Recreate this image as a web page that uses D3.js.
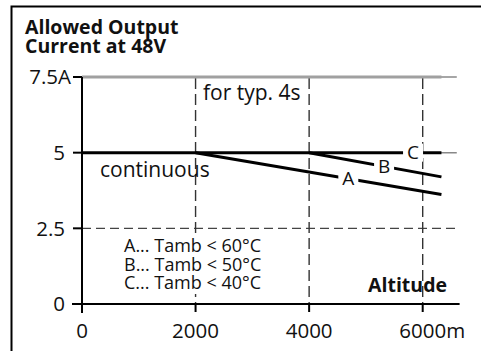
<!DOCTYPE html>
<html>
<head>
<meta charset="utf-8">
<script src="https://cdn.jsdelivr.net/npm/d3@7"></script>
<style>
  html, body { margin: 0; padding: 0; background: #fff; }
  svg { display: block; }
  text { font-family: "Open Sans", "Noto Sans", sans-serif; fill: #111; }
</style>
</head>
<body>
<svg id="chart" width="481" height="351"></svg>
<script>
// Altitude axis (m) and current axis (A)
const xTicks = [0, 2000, 4000, 6000];
const xTickLabels = ["0", "2000", "4000", "6000", "m"];
const yTicks = [0, 2.5, 5, 7.5];
const yTickLabels = ["0", "2.5", "5", "7.5A"];

// Derating curves: [altitude m, current A]
const curveC = [[0, 5], [6330, 5]];
const curveB = [[4000, 5], [6330, 4.2]];
const curveA = [[2000, 5], [6330, 3.62]];
// Short-time (peak) current for typ. 4s
const peakLine = [[0, 7.5], [6330, 7.5]];

const curveNames = ["A", "B", "C"];
const curveLabelAlt = [4690, 5320, 5830];

const legendLines = ["A... Tamb < 60°C", "B... Tamb < 50°C", "C... Tamb < 40°C"];

const gridEnd = 6600;   // grid lines extend slightly past the last tick
const axisEnd = 6650;

const svg = d3.select("#chart");

// Outer frame (open to the right and bottom)
svg.append("path")
  .attr("d", "M11.5,351 V6.5 H481")
  .attr("fill", "none").attr("stroke", "#000").attr("stroke-width", 2);

const x = d3.scaleLinear().domain([0, 6000]).range([82, 422.7]);
const y = d3.scaleLinear().domain([0, 7.5]).range([304, 77]);

// Title
const title = svg.append("text").attr("font-weight", "bold").attr("font-size", 19.5);
title.append("tspan").attr("x", 25).attr("y", 34).text("Allowed Output");
title.append("tspan").attr("x", 25).attr("y", 53).text("Current at 48V");

// Horizontal grid lines
const g = svg.append("g");
g.append("line")
  .attr("x1", x(0)).attr("x2", x(gridEnd)).attr("y1", y(7.5)).attr("y2", y(7.5))
  .attr("stroke", "#888").attr("stroke-width", 1.5);
g.append("line")
  .attr("x1", x(0)).attr("x2", x(gridEnd)).attr("y1", y(5)).attr("y2", y(5))
  .attr("stroke", "#888").attr("stroke-width", 1.5);
g.append("line")
  .attr("x1", x(0)).attr("x2", x(gridEnd)).attr("y1", y(2.5)).attr("y2", y(2.5))
  .attr("stroke", "#444").attr("stroke-width", 1.4).attr("stroke-dasharray", "9,5");

// Vertical dashed grid lines
g.selectAll("line.v").data(xTicks.slice(1)).join("line").attr("class", "v")
  .attr("x1", d => x(d)).attr("x2", d => x(d))
  .attr("y1", y(7.5) + 1).attr("y2", y(0))
  .attr("stroke", "#333").attr("stroke-width", 1.4).attr("stroke-dasharray", "11,5");

// Text inside the plot
svg.append("text").attr("x", 203).attr("y", 100).attr("font-size", 21).text("for typ. 4s");
svg.append("text").attr("x", 100).attr("y", 177).attr("font-size", 21).text("continuous");

// Curves
const line = d3.line().x(d => x(d[0])).y(d => y(d[1]));
svg.append("path").datum(peakLine).attr("d", line)
  .attr("fill", "none").attr("stroke", "#a0a0a0").attr("stroke-width", 3);
const curves = [curveA, curveB, curveC];
svg.selectAll("path.curve").data(curves).join("path").attr("class", "curve")
  .attr("d", line).attr("fill", "none").attr("stroke", "#000").attr("stroke-width", 3);

// Curve labels on white patches that break the lines
curves.forEach((c, i) => {
  const a = curveLabelAlt[i];
  const t = (a - c[0][0]) / (c[1][0] - c[0][0]);
  const v = c[0][1] + t * (c[1][1] - c[0][1]);
  const lg = svg.append("g").attr("transform", `translate(${x(a)},${y(v)})`);
  lg.append("rect").attr("x", -10).attr("y", -9).attr("width", 20).attr("height", 18).attr("fill", "#fff");
  lg.append("text").attr("text-anchor", "middle").attr("dy", "0.35em")
    .attr("font-size", 19).text(curveNames[i]);
});

// Legend block on a white panel
const leg = svg.append("g");
leg.append("rect").attr("x", 120).attr("y", 236).attr("width", 152).attr("height", 58).attr("fill", "#fff");
leg.selectAll("text.leg").data(legendLines).join("text").attr("class", "leg")
  .attr("x", 124).attr("y", (d, i) => 252 + i * 18.5)
  .attr("font-size", 18).text(d => d);

// Axes
const axes = svg.append("g");
axes.append("line").attr("x1", x(0)).attr("x2", x(0)).attr("y1", y(7.5)).attr("y2", y(0) + 9)
  .attr("stroke", "#000").attr("stroke-width", 2);
axes.append("line").attr("x1", x(0) - 10).attr("x2", x(axisEnd)).attr("y1", y(0)).attr("y2", y(0))
  .attr("stroke", "#000").attr("stroke-width", 2);

// Y ticks and labels
axes.selectAll("line.yt").data(yTicks).join("line").attr("class", "yt")
  .attr("x1", x(0) - 9).attr("x2", x(0)).attr("y1", d => y(d)).attr("y2", d => y(d))
  .attr("stroke", "#000").attr("stroke-width", 2);
axes.selectAll("text.yl").data(yTicks).join("text").attr("class", "yl")
  .attr("x", (d, i) => i === 3 ? 71 : 65).attr("y", d => y(d)).attr("dy", "0.35em")
  .attr("text-anchor", "end").attr("font-size", 20.5)
  .text((d, i) => yTickLabels[i]);

// X ticks and labels
axes.selectAll("line.xt").data(xTicks).join("line").attr("class", "xt")
  .attr("x1", d => x(d)).attr("x2", d => x(d)).attr("y1", y(0)).attr("y2", y(0) + 8)
  .attr("stroke", "#000").attr("stroke-width", 2);
const xl = axes.selectAll("text.xl").data(xTicks).join("text").attr("class", "xl")
  .attr("x", d => x(d)).attr("y", 338)
  .attr("text-anchor", "middle").attr("font-size", 20.5)
  .text((d, i) => xTickLabels[i]);
// unit after the last tick value
const lastLabel = xl.filter((d, i) => i === xTicks.length - 1).node();
const bb = lastLabel.getBBox();
axes.append("text").attr("x", bb.x + bb.width).attr("y", 338).attr("font-size", 20.5)
  .text(xTickLabels[xTickLabels.length - 1]);

// Axis title
svg.append("text").attr("x", 447).attr("y", 292).attr("text-anchor", "end")
  .attr("font-weight", "bold").attr("font-size", 19.5).text("Altitude");
</script>
</body>
</html>
